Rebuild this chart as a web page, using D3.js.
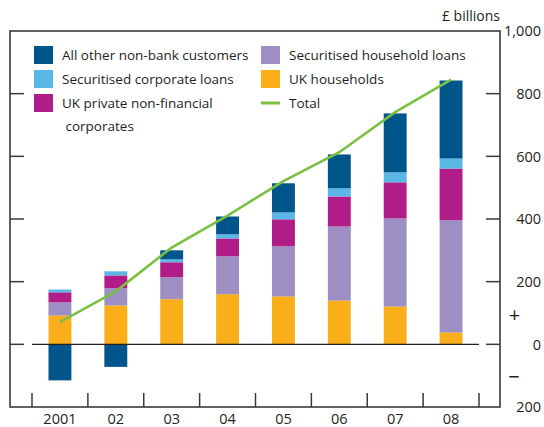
<!DOCTYPE html>
<html><head><meta charset="utf-8">
<script src="https://cdn.jsdelivr.net/npm/d3@7"></script>
<style>
body{margin:0;background:#fff;}
text{font-family:"Open Sans",sans-serif;fill:#231f20;}
</style></head>
<body><svg id="c" width="544" height="427"></svg>
<script>
const years = ["2001","02","03","04","05","06","07","08"];
const ukHouseholds =      [92, 124, 144, 160, 153, 140, 121, 38];
const securitisedHH =     [42, 55, 70, 121, 160, 236, 281, 358];
const ukPNFC =            [32, 41, 48, 57, 86, 96, 115, 165];
const securitisedCorp =   [9, 13, 9, 13, 22, 26, 32, 32];
const allOther =          [-115, -72, 29, 57, 93, 108, 188, 249];
const total =             [71, 169, 309, 411, 521, 613, 741, 845];
const yTicks = [1000, 800, 600, 400, 200, 0, -200];
const yTickLabels = ["1,000","800","600","400","200","0","200"];
const innerTicks = [800, 600, 400, 200, 0];

const colors = {
  allOther:"#00558b", securitisedCorp:"#5bb8e6", ukPNFC:"#b01c88",
  securitisedHH:"#9d8ec3", ukHouseholds:"#f9ae1a", total:"#7ac143"
};

const svg = d3.select("#c");
const L = 10, R = 500, T = 31, B = 407;
const x = d3.scaleBand().domain(years).range([32, 479]).paddingInner(0.59).paddingOuter(0.295);
const y = d3.scaleLinear().domain([-200, 1000]).range([B, T]);
const step = x.step();

// stacked bars
const keys = ["ukHouseholds","securitisedHH","ukPNFC","securitisedCorp","allOther"];
const series = {ukHouseholds, securitisedHH, ukPNFC, securitisedCorp, allOther};
years.forEach((yr, i) => {
  let pos = 0, neg = 0;
  keys.forEach(k => {
    const v = series[k][i];
    let y0, y1;
    if (v >= 0) { y0 = pos; y1 = pos + v; pos = y1; }
    else { y0 = neg + v; y1 = neg; neg = y0; }
    svg.append("rect")
      .attr("x", x(yr)).attr("width", x.bandwidth())
      .attr("y", y(y1)).attr("height", y(y0) - y(y1))
      .attr("fill", colors[k]);
  });
});

// zero line
svg.append("line").attr("x1", x.range()[0]).attr("x2", x.range()[1])
  .attr("y1", y(0)).attr("y2", y(0)).attr("stroke", "#231f20").attr("stroke-width", 1.3);

// total line
const line = d3.line().x((d, i) => x(years[i]) + x.bandwidth()/2).y(d => y(d));
svg.append("path").datum(total).attr("d", line)
  .attr("fill", "none").attr("stroke", colors.total).attr("stroke-width", 2.6);

// frame
svg.append("rect").attr("x", L).attr("y", T).attr("width", R - L).attr("height", B - T)
  .attr("fill", "none").attr("stroke", "#3a3a3a").attr("stroke-width", 1.6);

// inner ticks
innerTicks.forEach(t => {
  svg.append("line").attr("x1", L).attr("x2", L + 14).attr("y1", y(t)).attr("y2", y(t))
    .attr("stroke", "#3a3a3a").attr("stroke-width", 1.5);
  svg.append("line").attr("x1", R - 14).attr("x2", R).attr("y1", y(t)).attr("y2", y(t))
    .attr("stroke", "#3a3a3a").attr("stroke-width", 1.5);
});
// x boundary ticks
d3.range(years.length + 1).forEach(i => {
  const xx = x.range()[0] + i * step;
  svg.append("line").attr("x1", xx).attr("x2", xx).attr("y1", B - 14).attr("y2", B)
    .attr("stroke", "#3a3a3a").attr("stroke-width", 1.5);
});

// y labels
yTicks.forEach((t, i) => {
  svg.append("text").attr("x", 541).attr("y", y(t)).attr("dy", "0.36em")
    .attr("text-anchor", "end").attr("font-size", 14.5).text(yTickLabels[i]);
});
svg.append("text").attr("x", 514.5).attr("y", y(93)).attr("dy", "0.36em")
  .attr("text-anchor", "middle").attr("font-size", 20).text("+");
svg.append("text").attr("x", 514).attr("y", y(-105)).attr("dy", "0.36em")
  .attr("text-anchor", "middle").attr("font-size", 20).text("\u2212");
svg.append("text").attr("x", 500).attr("y", 16).attr("dy", "0.36em")
  .attr("text-anchor", "end").attr("font-size", 14).text("£ billions");

// x labels
years.forEach(yr => {
  svg.append("text").attr("x", x(yr) + x.bandwidth()/2).attr("y", 424)
    .attr("text-anchor", "middle").attr("font-size", 14.5).text(yr);
});

// legend
const legend = [
  {k:"allOther", label:["All other non-bank customers"], x:34, y:46},
  {k:"securitisedCorp", label:["Securitised corporate loans"], x:34, y:70},
  {k:"ukPNFC", label:["UK private non-financial", " corporates"], x:34, y:94},
  {k:"securitisedHH", label:["Securitised household loans"], x:261, y:46},
  {k:"ukHouseholds", label:["UK households"], x:261, y:70},
  {k:"total", label:["Total"], x:261, y:94, line:true}
];
legend.forEach(d => {
  if (d.line) {
    svg.append("line").attr("x1", d.x).attr("x2", d.x + 19).attr("y1", d.y + 9).attr("y2", d.y + 9)
      .attr("stroke", colors[d.k]).attr("stroke-width", 3);
  } else {
    svg.append("rect").attr("x", d.x).attr("y", d.y).attr("width", 19).attr("height", 18)
      .attr("fill", colors[d.k]);
  }
  d.label.forEach((s, j) => {
    svg.append("text").attr("x", d.x + 28).attr("y", d.y + 9 + j * 23).attr("dy", "0.36em")
      .attr("font-size", 13.5).attr("xml:space", "preserve").style("white-space", "pre").text(s);
  });
});
</script></body></html>
